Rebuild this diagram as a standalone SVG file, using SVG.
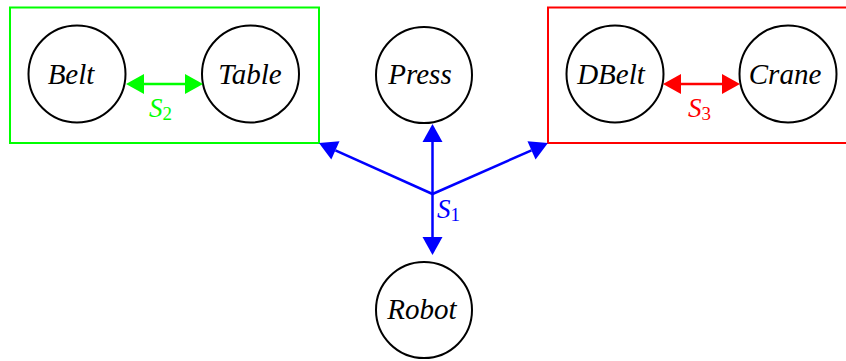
<svg xmlns="http://www.w3.org/2000/svg" width="846" height="361" viewBox="0 0 846 361">
  <style>
    .node circle { fill: #ffffff; stroke: #000000; stroke-width: 2; }
    .name { font-style: italic; font-size: 29px; fill: #000000; text-anchor: middle; }
    .sym { font-style: italic; font-size: 27px; }
    .sub { font-style: normal; font-size: 19px; }
    .group { fill: none; stroke-width: 2; }
    .link { fill: none; stroke-width: 2.5; }
  </style>
  <defs>
    <marker id="headBlue" markerUnits="userSpaceOnUse" markerWidth="18" markerHeight="20" refX="0" refY="10" orient="auto-start-reverse" overflow="visible">
      <path d="M0,0 L18,10 L0,20 z" fill="#0000ff"/>
    </marker>
    <marker id="headGreen" markerUnits="userSpaceOnUse" markerWidth="18" markerHeight="20" refX="0" refY="10" orient="auto-start-reverse" overflow="visible">
      <path d="M0,0 L18,10 L0,20 z" fill="#00ff00"/>
    </marker>
    <marker id="headRed" markerUnits="userSpaceOnUse" markerWidth="18" markerHeight="20" refX="0" refY="10" orient="auto-start-reverse" overflow="visible">
      <path d="M0,0 L18,10 L0,20 z" fill="#ff0000"/>
    </marker>
  </defs>

  <!-- subsystem boxes -->
  <g id="box-s2">
    <rect class="group" x="10" y="7.5" width="309" height="135.5" stroke="#00ff00"/>
  </g>
  <g id="box-s3">
    <rect class="group" x="548" y="7.5" width="310" height="135.5" stroke="#ff0000"/>
  </g>

  <!-- nodes -->
  <g id="belt" class="node">
    <circle cx="77" cy="74" r="48.5"/>
    <text class="name" x="71" y="84" font-family="Liberation Serif, serif">Belt</text>
  </g>
  <g id="table" class="node">
    <circle cx="250.5" cy="74" r="48.5"/>
    <text class="name" x="250" y="84" font-family="Liberation Serif, serif">Table</text>
  </g>
  <g id="press" class="node">
    <circle cx="424" cy="75" r="48"/>
    <text class="name" x="420" y="84" font-family="Liberation Serif, serif">Press</text>
  </g>
  <g id="dbelt" class="node">
    <circle cx="615" cy="74" r="48.5"/>
    <text class="name" x="611" y="84" font-family="Liberation Serif, serif">DBelt</text>
  </g>
  <g id="crane" class="node">
    <circle cx="788" cy="74" r="48.5"/>
    <text class="name" x="785" y="84" font-family="Liberation Serif, serif">Crane</text>
  </g>
  <g id="robot" class="node">
    <circle cx="424" cy="310" r="48"/>
    <text class="name" x="422" y="319" font-family="Liberation Serif, serif">Robot</text>
  </g>

  <!-- connectors -->
  <g id="connectors">
    <path class="link" stroke="#00ff00" d="M144,84 L185,84" marker-start="url(#headGreen)" marker-end="url(#headGreen)"/>
    <path class="link" stroke="#ff0000" d="M681,84 L722,84" marker-start="url(#headRed)" marker-end="url(#headRed)"/>
    <path class="link" stroke="#0000ff" d="M432.5,194 L432.5,142" marker-end="url(#headBlue)"/>
    <path class="link" stroke="#0000ff" d="M432.5,194 L432.5,237" marker-end="url(#headBlue)"/>
    <path class="link" stroke="#0000ff" d="M432.5,194 L335.4,150.4" marker-end="url(#headBlue)"/>
    <path class="link" stroke="#0000ff" d="M432.5,194 L531.5,150.3" marker-end="url(#headBlue)"/>
    <text class="sym" x="149" y="117" fill="#00ff00" font-family="Liberation Serif, serif">S<tspan class="sub" dy="3">2</tspan></text>
    <text class="sym" x="688" y="117" fill="#ff0000" font-family="Liberation Serif, serif">S<tspan class="sub" dy="3">3</tspan></text>
    <text class="sym" x="437" y="218" fill="#0000ff" font-family="Liberation Serif, serif">S<tspan class="sub" dy="3">1</tspan></text>
  </g>
</svg>
